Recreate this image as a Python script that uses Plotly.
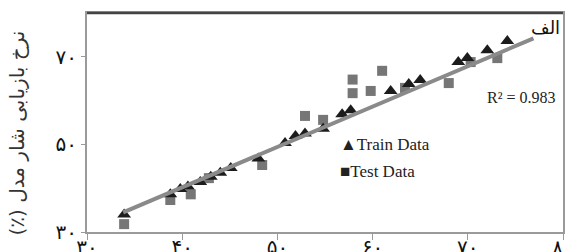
import plotly.graph_objects as go

# Train data (actual vs predicted)
train_x = [33.9, 38.75, 39.8, 40.6, 41.9, 43.0, 44.0, 45.1, 48.0, 50.8, 51.9, 52.9,
           54.8, 56.8, 57.7, 61.9, 63.8, 65.0, 69.0, 69.95, 72.05, 74.15]
train_y = [34.0, 38.6, 39.8, 40.4, 41.4, 42.6, 43.5, 44.6, 46.8, 50.3, 51.9, 52.5,
           53.6, 56.9, 57.8, 62.2, 63.8, 64.7, 68.8, 69.7, 71.5, 73.6]

# Test data
test_x = [33.9, 38.75, 40.9, 42.8, 48.4, 52.9, 54.8, 57.9, 57.9, 59.8, 61.0,
          63.4, 68.0, 70.3, 73.1]
test_y = [31.8, 37.3, 38.6, 42.3, 45.3, 56.5, 55.6, 64.8, 61.7, 62.2, 66.8,
          62.9, 64.0, 68.8, 69.7]

# Fitted regression line (end points)
fit_x = [33.8, 76.9]
fit_y = [34.5, 74.2]

x_ticks = [30, 40, 50, 60, 70, 80]
x_ticktext = ["۳۰", "۴۰", "۵۰", "۶۰", "۷۰", "۸۰"]
y_ticks = [30, 50, 70]
y_ticktext = ["۳۰", "۵۰", "۷۰"]

y_title = "\u200fنرخ بازیابی شار مدل (٪)\u200f"
panel_label = "الف"
r2_text = "R² = 0.983"

fig = go.Figure()
fig.add_trace(go.Scatter(x=test_x, y=test_y, mode="markers", name="Test Data",
                         marker=dict(symbol="square", size=10, color="#5e5e5e", opacity=0.85,
                                     line=dict(width=0))))
fig.add_trace(go.Scatter(x=train_x, y=train_y, mode="markers", name="Train Data",
                         marker=dict(symbol="triangle-up", size=12, color="#1c1c1c",
                                     line=dict(width=0))))
fig.add_trace(go.Scatter(x=fit_x, y=fit_y, mode="lines", name="fit",
                         line=dict(color="#8a8a8a", width=4)))

serif = "Liberation Serif"
# the page body has an 8px margin, so the figure is sized/offset to compensate;
# the bottom extends past the window so the x tick labels are cut as in the reference
fig.update_layout(
    width=567, height=252,
    margin=dict(l=79, r=12, t=5, b=28),
    paper_bgcolor="white", plot_bgcolor="white",
    showlegend=False,
    xaxis=dict(range=[30, 80], tickvals=x_ticks, ticktext=x_ticktext, automargin=False,
               showgrid=False, zeroline=False, showline=True, linecolor="#9a9a9a",
               linewidth=2, mirror=True, ticks="outside", ticklen=6, tickcolor="#9a9a9a",
               ticklabelstandoff=-10,
               tickfont=dict(family="DejaVu Sans", size=20, color="#111")),
    yaxis=dict(range=[30, 80], tickvals=y_ticks, ticktext=y_ticktext, automargin=False,
               showgrid=False, zeroline=False, showline=True, linecolor="#9a9a9a",
               linewidth=2, mirror=True, ticks="outside", ticklen=4, tickcolor="#9a9a9a",
               tickfont=dict(family="DejaVu Sans", size=20, color="#111")),
    annotations=[
        dict(text=y_title, xref="paper", yref="paper", x=-0.147, y=0.45,
             textangle=-90, showarrow=False, xanchor="center", yanchor="middle",
             font=dict(family="DejaVu Sans", size=20, color="#333")),
        dict(text=panel_label, xref="paper", yref="paper", x=0.997, y=0.935,
             showarrow=False, xanchor="right", yanchor="middle",
             font=dict(family="DejaVu Sans", size=18, color="#111")),
        dict(text=r2_text, xref="paper", yref="paper", x=0.99, y=0.615,
             showarrow=False, xanchor="right", yanchor="middle",
             font=dict(family=serif, size=16, color="#222")),
        dict(text="▲Train Data", xref="paper", yref="paper", x=0.528, y=0.4,
             showarrow=False, xanchor="left", yanchor="middle",
             font=dict(family=serif, size=17, color="#222")),
        dict(text="■Test Data", xref="paper", yref="paper", x=0.528, y=0.275,
             showarrow=False, xanchor="left", yanchor="middle",
             font=dict(family=serif, size=17, color="#222")),
    ],
    shapes=[dict(type="line", xref="paper", yref="paper", x0=0, x1=1, y0=1, y1=1,
                 line=dict(color="#444", width=2.5))],
)

fig.write_html("out.html")
